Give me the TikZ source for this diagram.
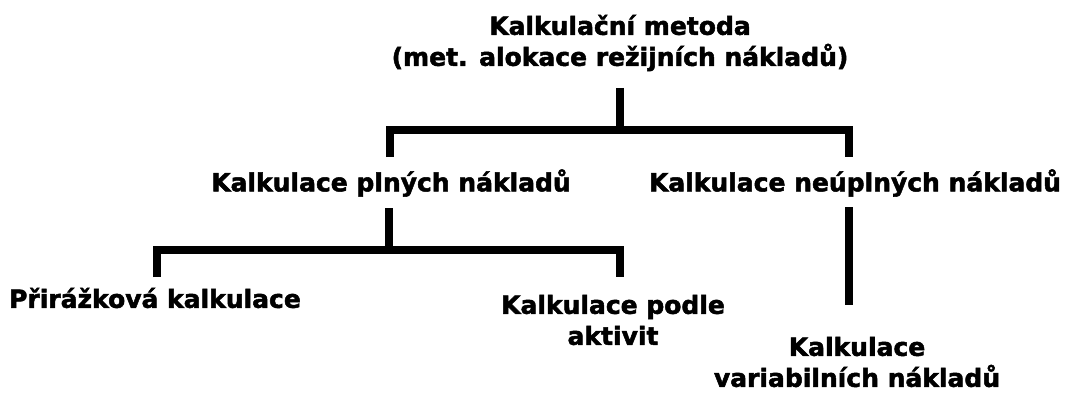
\documentclass[tikz,border=0pt]{standalone}
\usepackage{fontspec}
\setmainfont{DejaVu Sans}[BoldFeatures={FakeBold=2}]
\begin{document}
\begin{tikzpicture}[x=1pt,y=-1pt,
  lbl/.style={font=\fontsize{25}{31}\selectfont\bfseries, align=center, inner sep=0pt},
  conn/.style={line width=7.5pt, line join=miter, line cap=butt}]
\useasboundingbox (0,0) rectangle (1074,396);
% labels
\node[lbl] (title) at (620,43) {Kalkulační metoda\\(met. alokace režijních nákladů)};
\node[lbl] (full) at (391,183) {Kalkulace plných nákladů};
\node[lbl] (part) at (855,183) {Kalkulace neúplných nákladů};
\node[lbl] (prir) at (155,298) {Přirážková kalkulace};
\node[lbl] (abc) at (613,320) {Kalkulace podle\\aktivit};
\node[lbl] (var) at (857,362) {Kalkulace\\variabilních nákladů};
% junction points of the tree
\coordinate (t0) at (620,88);
\coordinate (t1) at (620,130);
\coordinate (fa) at (390,157);
\coordinate (pa) at (849,157);
\coordinate (f0) at (389,208);
\coordinate (f1) at (389,250);
\coordinate (ra) at (157,277);
\coordinate (aa) at (620,277);
\coordinate (p0) at (849,207);
\coordinate (va) at (849,305);
% connectors
\draw[conn] (t0) -- (t1);
\draw[conn] (fa) |- (t1) -| (pa);
\draw[conn] (f0) -- (f1);
\draw[conn] (ra) |- (f1) -| (aa);
\draw[conn] (p0) -- (va);
\end{tikzpicture}
\end{document}
